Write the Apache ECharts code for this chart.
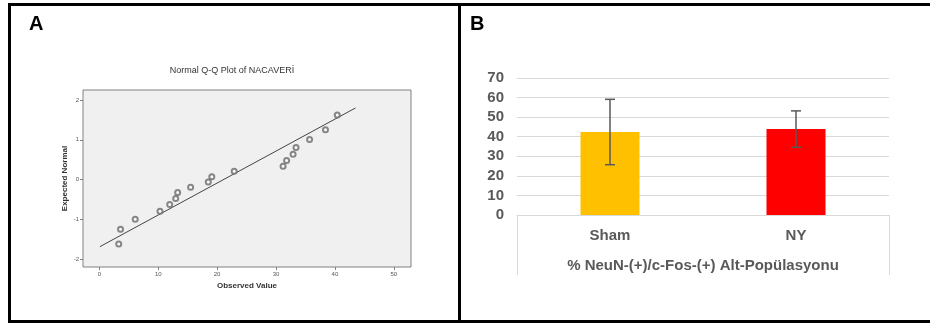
<!DOCTYPE html>
<html>
<head>
<meta charset="utf-8">
<script src="https://cdn.jsdelivr.net/npm/echarts@6/dist/echarts.min.js"></script>
<style>
  html, body { margin: 0; padding: 0; background: #fff; }
  #page { position: relative; width: 930px; height: 323px; overflow: hidden; }
  .chart { position: absolute; left: 0; top: 0; width: 930px; height: 323px; }
  #chartA { filter: blur(0.4px); }
  .rule { position: absolute; background: #000; }
</style>
</head>
<body>
<div id="page">
  <div id="chartA" class="chart"></div>
  <div id="chartB" class="chart"></div>
  <div class="rule" style="left:8px; top:3px; width:922px; height:3px;"></div>
  <div class="rule" style="left:8px; top:3px; width:3px; height:320px;"></div>
  <div class="rule" style="left:458px; top:3px; width:3px; height:320px;"></div>
  <div class="rule" style="left:8px; top:320px; width:922px; height:3px;"></div>
</div>
<script>
// Panel A: normal Q-Q plot
const qqObserved = [3.3, 3.6, 6.1, 10.3, 11.95, 12.97, 13.3, 15.5, 18.5, 19.1, 22.9, 31.2, 31.8, 32.9, 33.4, 35.7, 38.4, 40.4];
const qqExpected = [-1.61, -1.24, -0.99, -0.79, -0.62, -0.47, -0.32, -0.19, -0.06, 0.075, 0.21, 0.34, 0.48, 0.64, 0.81, 1.01, 1.25, 1.62];
const fitLineX = [0.1, 43.5];
const fitLineY = [-1.68, 1.80];
const qqXTicks = [0, 10, 20, 30, 40, 50];
const qqYTicks = [-2, -1, 0, 1, 2];

// Panel B: bar chart with error bars
const groups = ['Sham', 'NY'];
const groupMeans = [42.4, 43.9];
const groupErrors = [16.7, 9.3];
const groupColors = ['#FFC000', '#FF0000'];
const outerCategory = ['% NeuN-(+)/c-Fos-(+) Alt-Popülasyonu'];

const FONT = '"Liberation Sans", Arial, sans-serif';

const chartA = echarts.init(document.getElementById('chartA'), null, { renderer: 'canvas' });
chartA.setOption({
  animation: false,
  graphic: [
    { type: 'text', x: 232, y: 71, style: { text: 'Normal Q-Q Plot of NACAVERİ', font: '9px ' + FONT, fill: '#333', align: 'center', verticalAlign: 'middle' } }
  ],
  grid: {
    left: 83, top: 90, width: 328, height: 177,
    show: true, backgroundColor: '#f0f0f0', borderColor: '#808080', borderWidth: 1
  },
  xAxis: {
    type: 'value', min: -2.77, max: 52.92,
    name: 'Observed Value', nameLocation: 'middle', nameGap: 15,
    nameTextStyle: { fontFamily: FONT, fontSize: 8, fontWeight: 'bold', color: '#333' },
    axisLine: { show: false, onZero: false },
    axisTick: { show: true, length: 3, customValues: qqXTicks, lineStyle: { color: '#808080' } },
    axisLabel: { customValues: qqXTicks, fontFamily: FONT, fontSize: 6, color: '#555', margin: 4 },
    splitLine: { show: false }
  },
  yAxis: {
    type: 'value', min: -2.19, max: 2.25,
    name: 'Expected Normal', nameLocation: 'middle', nameGap: 14, nameRotate: 90,
    nameTextStyle: { fontFamily: FONT, fontSize: 8, fontWeight: 'bold', color: '#333' },
    axisLine: { show: false, onZero: false },
    axisTick: { show: true, length: 3, customValues: qqYTicks, lineStyle: { color: '#808080' } },
    axisLabel: { customValues: qqYTicks, fontFamily: FONT, fontSize: 6, color: '#555', margin: 4 },
    splitLine: { show: false }
  },
  series: [
    {
      type: 'line',
      data: fitLineX.map((x, i) => [x, fitLineY[i]]),
      showSymbol: false,
      lineStyle: { color: '#444', width: 1 },
      z: 2
    },
    {
      type: 'scatter',
      data: qqObserved.map((x, i) => [x, qqExpected[i]]),
      symbol: 'emptyCircle',
      symbolSize: 5,
      itemStyle: { color: '#6a6a6a', borderWidth: 0.8 },
      z: 3
    }
  ]
});

const chartB = echarts.init(document.getElementById('chartB'), null, { renderer: 'canvas' });
chartB.setOption({
  animation: false,
  graphic: [
    { type: 'text', left: 29, top: 14, style: { text: 'A', font: 'bold 20px ' + FONT, fill: '#000' } },
    { type: 'text', left: 470, top: 14, style: { text: 'B', font: 'bold 20px ' + FONT, fill: '#000' } }
  ],
  grid: { left: 517, top: 78, width: 372, height: 137 },
  xAxis: [
    {
      type: 'category', data: groups, position: 'bottom',
      axisLine: { show: true, lineStyle: { color: '#d9d9d9', width: 1 } },
      axisTick: { show: false },
      axisLabel: { fontFamily: FONT, fontSize: 15, fontWeight: 'bold', color: '#595959', margin: 13 }
    },
    {
      type: 'category', data: outerCategory, position: 'bottom', gridIndex: 0,
      axisLine: { show: false },
      axisTick: { show: true, length: 60, lineStyle: { color: '#d9d9d9', width: 1 } },
      axisLabel: { fontFamily: FONT, fontSize: 15, fontWeight: 'bold', color: '#595959', margin: 43 }
    }
  ],
  yAxis: {
    type: 'value', min: 0, max: 70, interval: 10,
    axisLine: { show: false },
    axisTick: { show: false },
    axisLabel: { fontFamily: FONT, fontSize: 15, fontWeight: 'bold', color: '#595959', margin: 13 },
    splitLine: { lineStyle: { color: '#d9d9d9', width: 1 } }
  },
  series: [
    {
      type: 'bar',
      xAxisIndex: 0,
      barWidth: 59,
      data: groupMeans.map((v, i) => ({ value: v, itemStyle: { color: groupColors[i] } })),
      z: 2
    },
    {
      type: 'custom',
      xAxisIndex: 0,
      data: groupMeans.map((v, i) => [i, v - groupErrors[i], v + groupErrors[i]]),
      renderItem: function (params, api) {
        const lo = api.coord([api.value(0), api.value(1)]);
        const hi = api.coord([api.value(0), api.value(2)]);
        const cap = 5;
        const style = { stroke: '#595959', lineWidth: 1.5 };
        return {
          type: 'group',
          children: [
            { type: 'line', shape: { x1: hi[0], y1: hi[1], x2: lo[0], y2: lo[1] }, style: style },
            { type: 'line', shape: { x1: hi[0] - cap, y1: hi[1], x2: hi[0] + cap, y2: hi[1] }, style: style },
            { type: 'line', shape: { x1: lo[0] - cap, y1: lo[1], x2: lo[0] + cap, y2: lo[1] }, style: style }
          ]
        };
      },
      z: 3
    }
  ]
});
</script>
</body>
</html>
